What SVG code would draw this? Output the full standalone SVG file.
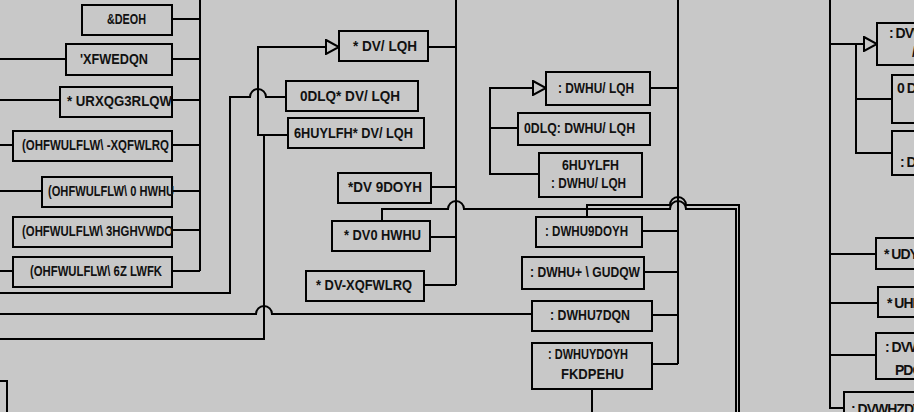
<svg xmlns="http://www.w3.org/2000/svg" width="914" height="412" viewBox="0 0 914 412">
<style>
.b{fill:#c8c8c8;stroke:#000;stroke-width:2}
.l{fill:none;stroke:#000;stroke-width:2}
.t{font-family:"Liberation Sans",Arial,sans-serif;font-size:14px;font-weight:bold;fill:#111}
.r{letter-spacing:-1px}
</style>
<defs>
<marker id="ah" markerUnits="userSpaceOnUse" markerWidth="16" markerHeight="16" refX="14" refY="8" orient="auto">
<path d="M1,1 L14,8 L1,15 Z" fill="#c8c8c8" stroke="#000" stroke-width="2"/>
</marker>
</defs>
<rect x="0" y="0" width="914" height="412" fill="#c8c8c8"/>
<g id="connectors" class="l">
<path d="M0,59 H66 M0,100 H60 M0,145 H13 M0,191 H42 M0,271 H13"/>
<path d="M172,19 H200 M172,59 H200 M172,100 H200 M172,145 H200 M172,191 H200 M172,230 H200 M172,271 H200 M200,0 V271"/>
<path d="M0,293 H230 V97 H250 A8,8 0 0 1 266,97 H286"/>
<path d="M288,135 H258 V47 H339" marker-end="url(#ah)"/>
<path d="M0,339 H264 V135"/>
<path d="M0,314 H256 A8,8 0 0 1 272,314 H532"/>
<path d="M456,0 V285 M428,47 H456 M431,187 H456 M430,237 H456 M424,285 H456"/>
<path d="M382,221 V209 H448 A8,8 0 0 1 464,209 H670 A8,8 0 0 1 686,209 H736 V412"/>
<path d="M587,217 V205 H670 A8,8 0 0 1 686,205 H739 V412"/>
<path d="M539,174 H490 V88 H546" marker-end="url(#ah)"/>
<path d="M490,128 H518"/>
<path d="M678,0 V364 M650,88 H678 M642,231 H678 M644,272 H678 M652,315 H678 M652,364 H678"/>
<path d="M592,389 V412"/>
<path d="M830,0 V408 H844"/>
<path d="M830,44 H877" marker-end="url(#ah)"/>
<path d="M856,44 V153 H892 M856,99 H892"/>
<path d="M830,254 H876 M830,303 H878 M830,355 H876"/>
</g>
<g id="n-cable"><rect class="b" x="82" y="5" width="90" height="30"/><text class="t" x="107" y="24" textLength="39" lengthAdjust="spacingAndGlyphs">&amp;DEOH</text></g>
<g id="n-ductbank"><rect class="b" x="66" y="44" width="106" height="31"/><text class="t" x="80" y="64" textLength="68" lengthAdjust="spacingAndGlyphs">'XFWEDQN</text></g>
<g id="n-groundpoint"><rect class="b" x="60" y="87" width="112" height="30"/><text class="t" x="67" y="106" textLength="105" lengthAdjust="spacingAndGlyphs">* URXQG3RLQW</text></g>
<g id="n-eljunction"><rect class="b" x="13" y="131" width="159" height="30"/><text class="t" x="22" y="150" textLength="147" lengthAdjust="spacingAndGlyphs">(OHFWULFLW\  -XQFWLRQ</text></g>
<g id="n-elmeter"><rect class="b" x="42" y="177" width="130" height="30"/><text class="t" x="48" y="196" textLength="126" lengthAdjust="spacingAndGlyphs">(OHFWULFLW\  0 HWHU</text></g>
<g id="n-elpedestal"><rect class="b" x="13" y="217" width="159" height="30"/><text class="t" x="22" y="236" textLength="151" lengthAdjust="spacingAndGlyphs">(OHFWULFLW\  3HGHVWDO</text></g>
<g id="n-elswitch"><rect class="b" x="13" y="257" width="159" height="30"/><text class="t" x="30" y="276" textLength="132" lengthAdjust="spacingAndGlyphs">(OHFWULFLW\  6Z LWFK</text></g>
<g id="n-gasline"><rect class="b" x="339" y="31" width="89" height="30"/><text class="t" x="353" y="51" textLength="64" lengthAdjust="spacingAndGlyphs">* DV/ LQH</text></g>
<g id="n-maingasline"><rect class="b" x="286" y="81" width="132" height="30"/><text class="t" x="300" y="101" textLength="100" lengthAdjust="spacingAndGlyphs">0DLQ* DV/ LQH</text></g>
<g id="n-servicegasline"><rect class="b" x="288" y="118" width="136" height="30"/><text class="t" x="294" y="138" textLength="119" lengthAdjust="spacingAndGlyphs">6HUYLFH* DV/ LQH</text></g>
<g id="n-gasvalve"><rect class="b" x="338" y="173" width="93" height="30"/><text class="t" x="348" y="192" textLength="74" lengthAdjust="spacingAndGlyphs">*DV 9DOYH</text></g>
<g id="n-gasmeter"><rect class="b" x="332" y="221" width="98" height="30"/><text class="t" x="344" y="240" textLength="77" lengthAdjust="spacingAndGlyphs">* DV0  HWHU</text></g>
<g id="n-gasjunction"><rect class="b" x="306" y="271" width="118" height="30"/><text class="t" x="316" y="290" textLength="96" lengthAdjust="spacingAndGlyphs">* DV-XQFWLRQ</text></g>
<g id="n-waterline"><rect class="b" x="546" y="72" width="104" height="33"/><text class="t" x="558" y="93" textLength="76" lengthAdjust="spacingAndGlyphs">:  DWHU/ LQH</text></g>
<g id="n-mainwaterline"><rect class="b" x="518" y="113" width="132" height="32"/><text class="t" x="524" y="133" textLength="111" lengthAdjust="spacingAndGlyphs">0DLQ:  DWHU/ LQH</text></g>
<g id="n-servicewaterline"><rect class="b" x="539" y="153" width="103" height="44"/><text class="t" x="562" y="170" textLength="57" lengthAdjust="spacingAndGlyphs">6HUYLFH</text><text class="t" x="551" y="188" textLength="75" lengthAdjust="spacingAndGlyphs">:  DWHU/ LQH</text></g>
<g id="n-watervalve"><rect class="b" x="536" y="217" width="106" height="30"/><text class="t" x="545" y="236" textLength="83" lengthAdjust="spacingAndGlyphs">:  DWHU9DOYH</text></g>
<g id="n-waterhydrant"><rect class="b" x="522" y="257" width="122" height="32"/><text class="t" x="530" y="277" textLength="110" lengthAdjust="spacingAndGlyphs">:  DWHU+ \ GUDQW</text></g>
<g id="n-watertank"><rect class="b" x="532" y="301" width="120" height="30"/><text class="t" x="550" y="320" textLength="80" lengthAdjust="spacingAndGlyphs">:  DWHU7DQN</text></g>
<g id="n-watervalvechamber"><rect class="b" x="532" y="343" width="120" height="46"/><text class="t" x="548" y="359" textLength="80" lengthAdjust="spacingAndGlyphs">:  DWHUYDOYH</text><text class="t" x="561" y="379" textLength="63" lengthAdjust="spacingAndGlyphs">FKDPEHU</text></g>
<g id="n-r1"><rect class="b" x="877" y="23" width="110" height="42"/><text class="t r" x="889" y="38">:  DVWH:  DWHU</text><text class="t r" x="912" y="57">/ LQH</text></g>
<g id="n-r2"><rect class="b" x="892" y="75" width="110" height="48"/><text class="t r" x="897" y="93">0 DLQ:  DVWH</text></g>
<g id="n-r3"><rect class="b" x="892" y="131" width="110" height="44"/><text class="t r" x="900" y="167">:  DVWH:  DWHU</text></g>
<g id="n-r4"><rect class="b" x="876" y="238" width="110" height="31"/><text class="t r" x="884" y="259">* UDYLW\</text></g>
<g id="n-r5"><rect class="b" x="878" y="287" width="110" height="30"/><text class="t r" x="887" y="308">* UHDVH</text></g>
<g id="n-r6"><rect class="b" x="876" y="333" width="110" height="46"/><text class="t r" x="885" y="352">:  DVWH</text><text class="t r" x="895" y="375">PDQKROH</text></g>
<g id="n-r7"><rect class="b" x="844" y="392" width="120" height="40"/><text class="t r" x="851" y="414">:  DVWHZDWHU</text></g>
<g id="n-bl"><rect class="b" x="-60" y="381" width="67" height="50"/></g>
</svg>
